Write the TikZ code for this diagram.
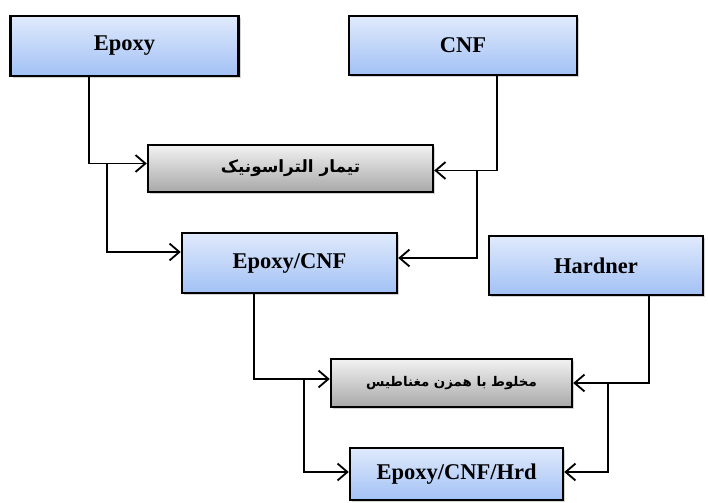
\documentclass[tikz,border=0pt]{standalone}
\usepackage{fontspec}
\setmainfont{Liberation Serif}
\newfontfamily\arabicfont[Script=Arabic]{DejaVu Sans}
\TeXXeTstate=1
\usetikzlibrary{arrows.meta,calc,shadows}
\definecolor{bluetop}{RGB}{224,234,252}
\definecolor{bluebot}{RGB}{162,193,245}
\definecolor{graytop}{RGB}{242,242,242}
\definecolor{graybot}{RGB}{168,168,168}

\begin{document}
\begin{tikzpicture}[
        x=0.025cm, y=-0.025cm,
        font=\fontsize{16}{18}\selectfont\bfseries,
        mat/.style={rectangle, draw=black, line width=1.7pt,
                    top color=bluetop, bottom color=bluebot,
                    drop shadow={opacity=0.35, shadow xshift=1.5pt, shadow yshift=-1.5pt},
                    inner sep=0pt, align=center},
        proc/.style={rectangle, draw=black, line width=1.7pt,
                     top color=graytop, bottom color=graybot,
                     drop shadow={opacity=0.35, shadow xshift=1.5pt, shadow yshift=-1.5pt},
                     inner sep=0pt, align=center,
                     font=\arabicfont\bfseries\fontsize{12}{14}\selectfont},
        arr/.style={-{Straight Barb[length=7pt,width=12pt]}, line width=1.3pt}
      ]
        \useasboundingbox (0,0) rectangle (708,503);

        % raw materials
        \node[mat, minimum width=5.7cm, minimum height=1.5cm] (epoxy) at (124.5,46) {Epoxy};
        \node[mat, minimum width=5.7cm, minimum height=1.475cm] (cnf) at (463,45.5) {CNF};
        \node[mat, minimum width=5.35cm, minimum height=1.475cm] (hard) at (596,265.5) {Hardner};

        % process steps
        \node[proc, minimum width=7.125cm, minimum height=1.175cm] (ultra) at (290.5,168.5)
          {\beginR تیمار التراسونیک\endR};
        \node[mat, minimum width=5.375cm, minimum height=1.5cm] (ec) at (289.5,263) {Epoxy/CNF};
        \node[proc, minimum width=6.025cm, minimum height=1.2cm,
              font=\arabicfont\bfseries\fontsize{9.5}{12}\selectfont] (mix) at (451.5,383)
          {\beginR مخلوط با همزن مغناطیس\endR};
        \node[mat, minimum width=5.325cm, minimum height=1.3cm] (final) at (456.5,474) {Epoxy/CNF/Hrd};

        % line positions
        \coordinate (e1) at (89,0);
        \coordinate (e2) at (107,0);
        \coordinate (c1) at (497,0);
        \coordinate (c2) at (477,0);
        \coordinate (d1) at (254,0);
        \coordinate (d2) at (304,0);
        \coordinate (h1) at (649,0);
        \coordinate (h2) at (608,0);

        \draw[arr] (epoxy.south -| e1) |- ($(ultra.west)+(0,-5)$);
        \draw[arr] ($(ultra.west -| e2)+(0,-5)$) |- ($(ec.west)+(0,-11)$);
        \draw[arr] (cnf.south -| c1) |- ($(ultra.east)+(0,2)$);
        \draw[arr] ($(ultra.east -| c2)+(0,2)$) |- ($(ec.east)+(0,-5)$);

        \draw[arr] (ec.south -| d1) |- ($(mix.west)+(0,-4)$);
        \draw[arr] ($(mix.west -| d2)+(0,-4)$) |- ($(final.west)+(0,-2)$);
        \draw[arr] (hard.south -| h1) |- (mix.east);
        \draw[arr] (mix.east -| h2) |- ($(final.east)+(0,-2)$);
      \end{tikzpicture}
\end{document}
